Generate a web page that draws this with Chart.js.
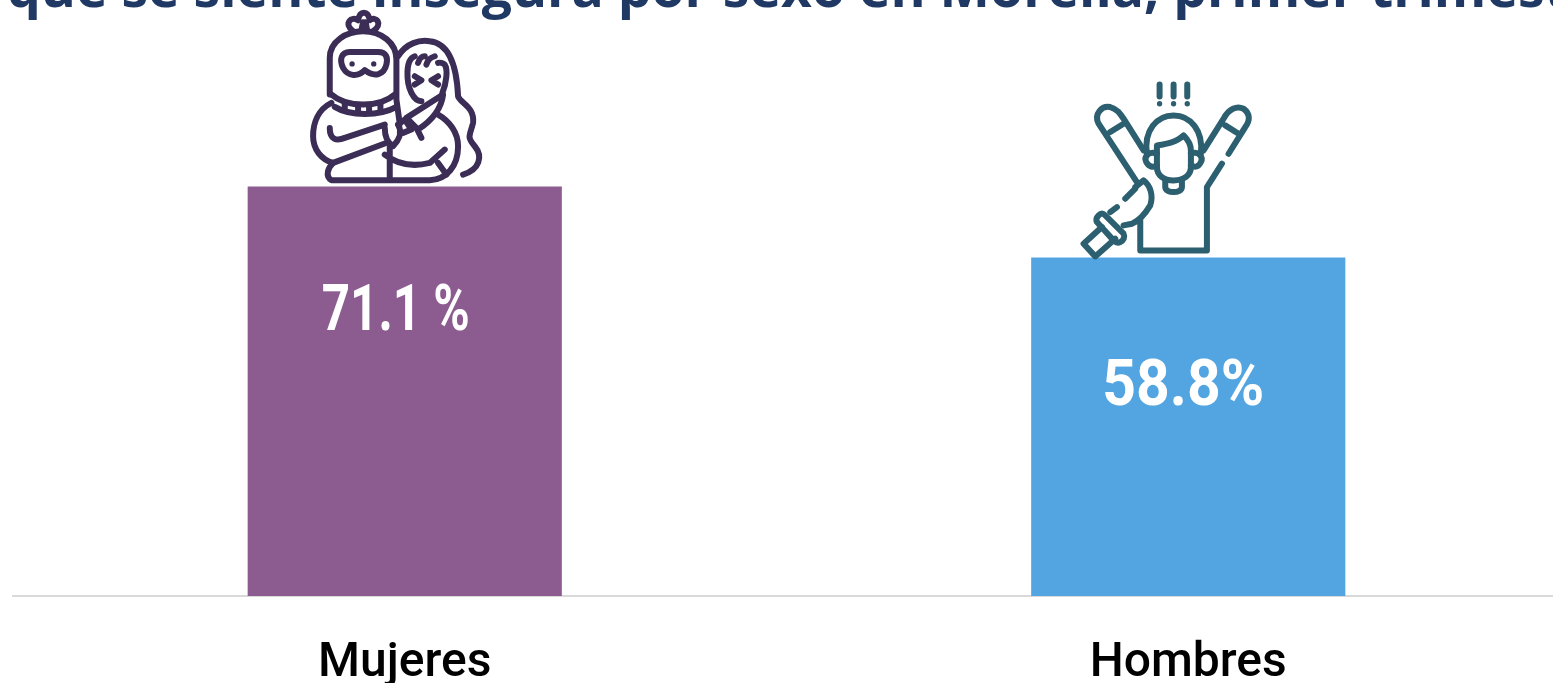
<!DOCTYPE html>
<html lang="es">
<head>
<meta charset="utf-8">
<title>Percepción de inseguridad por sexo</title>
<script src="https://cdn.jsdelivr.net/npm/chart.js@4"></script>
<style>
    html, body { margin: 0; padding: 0; width: 1553px; height: 683px; overflow: hidden; background: #fff; }
    canvas { display: block; }
</style>
</head>
<body>
<canvas id="myChart" width="1580" height="683"></canvas>
<script>
const titleText = "que se siente insegura por sexo en Morelia, primer trimestre";
const categories = ["Mujeres", "Hombres"];
const values = [71.1, 58.8];
const valueLabels = ["71.1 %", "58.8%"];
const barColors = ["#8c5c91", "#52a5e0"];

// icons traced by hand, in 3x px, origin is relative to the top middle of the bar
const icons = [
    {
        color: "#3b2d55", dx: -115, dy: -187,
        dots: [[187, 193], [252, 193]],
        paths: [
            "M190 95 C160 72 185 48 205 62 C210 32 235 32 240 62 C258 48 282 72 250 95",
            "M215 92 L220 68 M232 92 L228 68",
            "M120 285 L120 175 C120 125 170 95 220 95 C275 95 320 130 320 180 L320 300 L330 372",
            "M180 157 L265 157 C290 157 295 175 290 195 C283 225 255 235 225 212 C205 232 175 232 160 205 C148 180 155 157 180 157Z",
            "M125 285 C170 325 270 325 315 285 M135 322 C180 350 270 350 320 322",
            "M165 312 L165 328 M205 318 L205 334 M238 318 L238 334 M272 312 L272 328",
            "M125 310 C85 330 70 370 70 410 C70 450 95 480 130 490 L285 432",
            "M120 385 C120 420 140 425 165 415 L285 375",
            "M285 385 C285 410 295 430 310 440 C325 425 340 400 325 375",
            "M325 375 L345 360 L365 390 L340 400",
            "M130 490 C115 505 105 530 125 542 L420 542 C470 540 505 500 505 440 C505 400 480 365 445 345",
            "M300 440 L300 540 M285 465 C330 500 380 500 420 490 L465 450 M445 490 L470 525",
            "M350 355 L460 285 C455 325 430 360 385 390 Z M380 385 L395 415",
            "M325 170 C350 130 390 120 420 125 C470 130 500 180 505 290 C510 310 555 320 550 370 C540 410 530 410 555 440 C580 470 570 510 520 525",
            "M375 170 C345 180 350 250 365 280 C375 300 385 305 395 305 M445 190 C450 188 460 190 465 195 C475 210 470 250 458 280",
            "M385 190 C390 175 395 170 405 170 M410 195 C415 180 420 175 435 170",
            "M375 230 L395 242 L375 255 M445 230 L425 242 L445 255"
        ]
    },
    {
        color: "#2c5f6f", dx: -128, dy: -187,
        dots: [[298, 100], [340, 100], [381, 100]],
        paths: [
            "M298 42 L298 78 M340 42 L340 78 M381 42 L381 78",
            "M230 335 L115 160 C100 130 125 105 150 110 C170 115 180 130 190 145 L250 240 M150 185 L190 160",
            "M430 240 L490 145 C505 115 530 105 550 115 C570 130 570 150 555 170 L505 250 M495 165 L535 190",
            "M485 280 L440 350 L440 540 L240 540 L240 450",
            "M260 250 C250 180 290 135 340 135 C390 135 430 180 422 250",
            "M290 225 C320 220 350 215 370 195 C385 210 392 225 392 240 L392 290 C392 315 370 330 340 330 C310 330 290 315 290 290 Z",
            "M290 250 C265 240 250 260 258 275 C265 290 280 292 290 285 M392 250 C415 240 430 260 422 275 C415 290 405 292 392 285",
            "M315 330 L315 350 C315 370 365 370 365 350 L365 330",
            "M225 350 L250 330 C270 345 280 375 270 405 C255 430 240 450 215 460 L190 465 M195 385 L225 355 M150 425 L170 410",
            "M115 435 C125 425 130 430 135 435 L190 490 C195 500 190 510 180 515 C170 520 165 515 160 510 L110 455 C105 445 110 440 115 435Z",
            "M125 470 L70 520 L105 558 L165 505"
        ]
    }
];

// title is cut by the top edge in the original, so it is drawn by hand
const titlePlugin = {
    id: "croppedTitle",
    afterDraw(chart) {
        const c = chart.ctx;
        c.save();
        c.font = "bold 53.5px 'Open Sans'";
        c.fillStyle = "#1f3864";
        c.textAlign = "left";
        c.textBaseline = "alphabetic";
        c.fillText(titleText, 7, 7);
        c.restore();
    }
};

const valueLabelPlugin = {
    id: "valueLabels",
    afterDatasetsDraw(chart) {
        const c = chart.ctx;
        const bars = chart.getDatasetMeta(0).data;
        c.save();
        c.font = "700 64px Roboto";
        c.fillStyle = "#fff";
        c.textAlign = "center";
        c.textBaseline = "middle";
        bars.forEach((bar, i) => {
            // the original font is narrow, fillText squeezes to this width
            const shift = i === 0 ? [-9, 127, 148] : [-5, 132, 162];
            c.fillText(valueLabels[i], bar.x + shift[0], bar.y + shift[1], shift[2]);
        });
        c.restore();
    }
};

const iconPlugin = {
    id: "barIcons",
    afterDatasetsDraw(chart) {
        const c = chart.ctx;
        chart.getDatasetMeta(0).data.forEach((bar, i) => {
            const icon = icons[i];
            c.save();
            c.translate(bar.x + icon.dx, bar.y + icon.dy);
            c.scale(1 / 3, 1 / 3);
            c.strokeStyle = icon.color;
            c.fillStyle = icon.color;
            c.lineWidth = 18;
            c.lineCap = "round";
            c.lineJoin = "round";
            icon.paths.forEach((d) => c.stroke(new Path2D(d)));
            icon.dots.forEach((p) => {
                c.beginPath();
                c.arc(p[0], p[1], 8, 0, Math.PI * 2);
                c.fill();
            });
            c.restore();
        });
    }
};

const ctx = document.getElementById("myChart");

let myChart = new Chart(ctx, {
    type: "bar",
    data: {
        labels: categories,
        datasets: [
            {
                data: values,
                backgroundColor: barColors,
                barPercentage: 0.401,
                categoryPercentage: 1
            }
        ]
    },
    options: {
        responsive: false,
        animation: false,
        layout: {
            padding: { left: 13, top: 21, right: 0, bottom: 0 }
        },
        plugins: {
            legend: { display: false },
            tooltip: { enabled: false }
        },
        scales: {
            x: {
                grid: { display: false },
                border: { color: "#d9d9d9", width: 2 },
                ticks: {
                    color: "#000",
                    padding: 31,
                    maxRotation: 0,
                    font: { family: "Roboto", size: 48, weight: "500" }
                },
                afterFit: (scale) => { scale.height = 87; }
            },
            y: {
                display: false,
                min: 0,
                max: 99.85
            }
        }
    },
    plugins: [titlePlugin, valueLabelPlugin, iconPlugin]
});
</script>
</body>
</html>
